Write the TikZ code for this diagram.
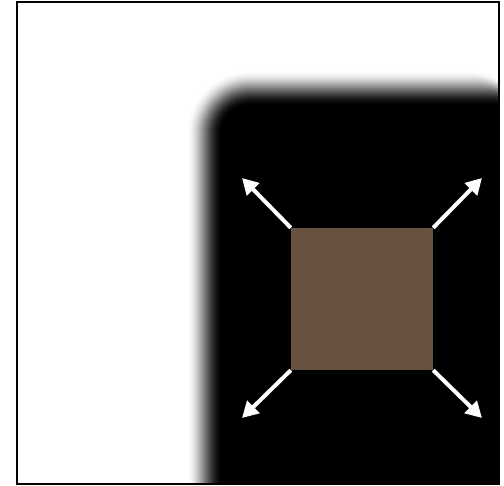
\documentclass[tikz,border=0pt]{standalone}
\usetikzlibrary{arrows.meta}
\definecolor{squarebrown}{RGB}{103,82,63}
\begin{document}
\begin{tikzpicture}
  [x=1pt,y=-1pt,
  squaredecorate/.style={shape=rectangle,fill=squarebrown,minimum size=142pt,inner sep=0pt},
  arrowdecorate/.style={-{Triangle[length=16pt,width=17pt]},white,line width=4pt}]
  \useasboundingbox (0,0) rectangle (504,486);
  %% blurred dark corner
  \begin{scope}
    \clip (17,2) rectangle (499,484);
    \foreach \i in {0,...,36}
    {
      \pgfmathsetmacro\graylevel{100*(3*(\i/36)^2-2*(\i/36)^3)}
      \pgfmathsetmacro\cornerrad{64-\i}
      \fill[black!\graylevel, rounded corners=\cornerrad pt] (186+\i,70+\i) rectangle (530,530);
    }
  \end{scope}
  %% square and corner arrows
  \node (sq) at (362,299) [squaredecorate] {};
  \foreach \tipname/\x/\y/\anchorname in {tl/242/178/north west,
    tr/482/178/north east, bl/242/418/south west, br/482/418/south east}
  {
    \coordinate (\tipname) at (\x,\y);
    \draw[arrowdecorate] (sq.\anchorname) -- (\tipname);
  }
  %% frame
  \draw[line width=2.2pt] (17,2) rectangle (499,484);
\end{tikzpicture}
\end{document}
